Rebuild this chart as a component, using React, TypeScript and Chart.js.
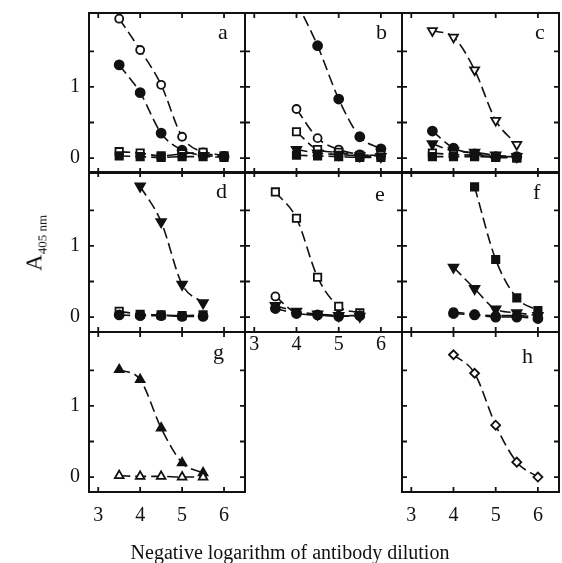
import React, { useEffect, useRef } from 'react';
import { Chart, registerables } from 'chart.js';

Chart.register(...registerables);

const FONT = '"Liberation Serif", "Times New Roman", serif';

// ---- axis ticks ----
const X_TICKS = [3, 4, 5, 6];
const Y_TICKS = [0, 0.5, 1, 1.5];
const X_MIN = 2.78;
const X_MAX = 6.5;
const Y_MIN = -0.21;
const Y_MAX = 2.04;

// ---- panel a ----
const xA = [3.5, 4, 4.5, 5, 5.5, 6];
const aOpenCircle = [1.96, 1.52, 1.03, 0.3, 0.08, 0.03];
const aFilledCircle = [1.31, 0.92, 0.35, 0.11, 0.04, 0.02];
const aOpenSquare = [0.09, 0.07, 0.03, 0.06, 0.08, 0.03];
const aFilledSquare = [0.03, 0.02, 0.01, 0.02, 0.02, 0.01];

// ---- panel b ----
const xB = [4, 4.5, 5, 5.5, 6];
const bFilledCircle = [2.2, 1.58, 0.83, 0.3, 0.13];
const bOpenCircle = [0.69, 0.28, 0.12, 0.05, 0.03];
const bOpenSquare = [0.37, 0.12, 0.08, 0.04, 0.04];
const bFilledTriDown = [0.12, 0.07, 0.05, 0.03, 0.02];
const bFilledSquare = [0.04, 0.03, 0.02, 0.01, 0.01];

// ---- panel c ----
const xC = [3.5, 4, 4.5, 5, 5.5];
const cOpenTriDown = [1.79, 1.7, 1.24, 0.53, 0.19];
const cFilledCircle = [0.38, 0.14, 0.06, 0.02, 0.02];
const cFilledTriDown = [0.2, 0.1, 0.08, 0.04, 0.02];
const cOpenSquare = [0.07, 0.05, 0.04, 0.02, 0.01];
const cFilledSquare = [0.02, 0.02, 0.02, 0.01, 0.0];

// ---- panel d ----
const xD = [4, 4.5, 5, 5.5];
const dFilledTriDown = [1.84, 1.34, 0.46, 0.2];
const xDBase = [3.5, 4, 4.5, 5, 5.5];
const dOpenSquare = [0.08, 0.04, 0.03, 0.02, 0.03];
const dFilledCircle = [0.03, 0.02, 0.02, 0.01, 0.01];

// ---- panel e ----
const xE = [3.5, 4, 4.5, 5, 5.5];
const eOpenSquare = [1.76, 1.39, 0.56, 0.15, 0.06];
const eOpenCircle = [0.29, 0.06, 0.03, 0.02, 0.02];
const eFilledTriDown = [0.16, 0.08, 0.04, 0.02, 0.01];
const eFilledCircle = [0.12, 0.05, 0.03, 0.01, 0.02];

// ---- panel f ----
const xFSquare = [4.5, 5, 5.5, 6];
const fFilledSquare = [1.83, 0.81, 0.27, 0.09];
const xF = [4, 4.5, 5, 5.5, 6];
const fFilledTriDown = [0.7, 0.4, 0.11, 0.06, 0.02];
const fOpenCircle = [0.07, 0.04, 0.02, 0.02, 0.0];
const fFilledCircle = [0.05, 0.03, 0.0, 0.0, -0.02];

// ---- panel g ----
const xG = [3.5, 4, 4.5, 5, 5.5];
const gFilledTriUp = [1.51, 1.37, 0.69, 0.2, 0.06];
const gOpenTriUp = [0.02, 0.01, 0.01, 0.0, 0.0];

// ---- panel h ----
const xH = [4, 4.5, 5, 5.5, 6];
const hOpenDiamond = [1.72, 1.46, 0.73, 0.21, 0.0];

type Marker = 'oc' | 'fc' | 'os' | 'fs' | 'otd' | 'ftd' | 'otu' | 'ftu' | 'od';
interface Series { x: number[]; y: number[]; m: Marker }
interface Panel {
  letter: string; col: number; row: number;
  lx: number; ly: number;
  showY: boolean; showX: boolean; xPad: number;
  series: Series[];
}

const COL_L = [89, 245, 402];
const COL_W = [156, 157, 157];
const ROW_T = [13, 172, 332];
const ROW_H = 160;
const AX_W = 60;
const AX_H = 50;
const PAD_T = 12;
const PAD_R = 12;
const TICK = 5;

const PANELS: Panel[] = [
  { letter: 'a', col: 0, row: 0, lx: 218, ly: 39, showY: true, showX: false, xPad: 2,
    series: [
      { x: xA, y: aFilledSquare, m: 'fs' }, { x: xA, y: aOpenSquare, m: 'os' },
      { x: xA, y: aFilledCircle, m: 'fc' }, { x: xA, y: aOpenCircle, m: 'oc' }] },
  { letter: 'b', col: 1, row: 0, lx: 376, ly: 39, showY: false, showX: false, xPad: 2,
    series: [
      { x: xB, y: bFilledSquare, m: 'fs' }, { x: xB, y: bFilledTriDown, m: 'ftd' },
      { x: xB, y: bOpenSquare, m: 'os' }, { x: xB, y: bOpenCircle, m: 'oc' },
      { x: xB, y: bFilledCircle, m: 'fc' }] },
  { letter: 'c', col: 2, row: 0, lx: 535, ly: 39, showY: false, showX: false, xPad: 2,
    series: [
      { x: xC, y: cFilledSquare, m: 'fs' }, { x: xC, y: cOpenSquare, m: 'os' },
      { x: xC, y: cFilledTriDown, m: 'ftd' }, { x: xC, y: cFilledCircle, m: 'fc' },
      { x: xC, y: cOpenTriDown, m: 'otd' }] },
  { letter: 'd', col: 0, row: 1, lx: 216, ly: 198, showY: true, showX: false, xPad: 2,
    series: [
      { x: xDBase, y: dFilledCircle, m: 'fc' }, { x: xDBase, y: dOpenSquare, m: 'os' },
      { x: xD, y: dFilledTriDown, m: 'ftd' }] },
  { letter: 'e', col: 1, row: 1, lx: 375, ly: 201, showY: false, showX: true, xPad: 1,
    series: [
      { x: xE, y: eFilledCircle, m: 'fc' }, { x: xE, y: eFilledTriDown, m: 'ftd' },
      { x: xE, y: eOpenCircle, m: 'oc' }, { x: xE, y: eOpenSquare, m: 'os' }] },
  { letter: 'f', col: 2, row: 1, lx: 533, ly: 199, showY: false, showX: false, xPad: 2,
    series: [
      { x: xF, y: fFilledCircle, m: 'fc' }, { x: xF, y: fOpenCircle, m: 'oc' },
      { x: xF, y: fFilledTriDown, m: 'ftd' }, { x: xFSquare, y: fFilledSquare, m: 'fs' }] },
  { letter: 'g', col: 0, row: 2, lx: 213, ly: 359, showY: true, showX: true, xPad: 12,
    series: [
      { x: xG, y: gOpenTriUp, m: 'otu' }, { x: xG, y: gFilledTriUp, m: 'ftu' }] },
  { letter: 'h', col: 2, row: 2, lx: 522, ly: 363, showY: false, showX: true, xPad: 12,
    series: [{ x: xH, y: hOpenDiamond, m: 'od' }] },
];

function markerStyle(m: Marker) {
  const ink = '#111';
  switch (m) {
    case 'oc': return { pointStyle: 'circle', rot: 0, r: 4, bg: '#fff' };
    case 'fc': return { pointStyle: 'circle', rot: 0, r: 4.5, bg: ink };
    case 'os': return { pointStyle: 'rect', rot: 0, r: 5.2, bg: '#fff' };
    case 'fs': return { pointStyle: 'rect', rot: 0, r: 5.2, bg: ink };
    case 'otd': return { pointStyle: 'triangle', rot: 180, r: 5.2, bg: '#fff' };
    case 'ftd': return { pointStyle: 'triangle', rot: 180, r: 5.5, bg: ink };
    case 'otu': return { pointStyle: 'triangle', rot: 0, r: 5, bg: '#fff' };
    case 'ftu': return { pointStyle: 'triangle', rot: 0, r: 5, bg: ink };
    case 'od': return { pointStyle: 'rectRot', rot: 0, r: 4.5, bg: '#fff' };
  }
}

const framePlugin = {
  id: 'frame',
  afterDraw(chart: any) {
    const { ctx, chartArea } = chart;
    const { left, top, right, bottom } = chartArea;
    const xs = chart.scales.x;
    const ys = chart.scales.y;
    ctx.save();
    ctx.strokeStyle = '#111';
    ctx.lineWidth = 2;
    ctx.strokeRect(left, top, right - left, bottom - top);
    ctx.lineWidth = 1.8;
    ctx.beginPath();
    for (const v of Y_TICKS) {
      const py = ys.getPixelForValue(v);
      ctx.moveTo(left, py); ctx.lineTo(left + TICK, py);
      ctx.moveTo(right, py); ctx.lineTo(right - TICK, py);
    }
    for (const v of X_TICKS) {
      const px = xs.getPixelForValue(v);
      ctx.moveTo(px, bottom); ctx.lineTo(px, bottom - TICK);
      ctx.moveTo(px, top); ctx.lineTo(px, top + TICK);
    }
    ctx.stroke();
    ctx.restore();
  },
};

function PanelChart({ p }: { p: Panel }) {
  const ref = useRef<HTMLCanvasElement | null>(null);
  const W = COL_W[p.col];
  const L = COL_L[p.col];
  const T = ROW_T[p.row];
  const cw = W + AX_W + PAD_R;
  const ch = ROW_H + PAD_T + AX_H;
  useEffect(() => {
    if (!ref.current) return;
    const chart = new Chart(ref.current, {
      type: 'line',
      data: {
        datasets: p.series.map((s) => {
          const ms = markerStyle(s.m)!;
          return {
            data: s.x.map((x, i) => ({ x, y: s.y[i] })),
            borderColor: '#111',
            borderWidth: 1.6,
            borderDash: [11, 5],
            cubicInterpolationMode: 'monotone',
            fill: false,
            pointStyle: ms.pointStyle,
            pointRotation: ms.rot,
            pointRadius: ms.r,
            pointBackgroundColor: ms.bg,
            pointBorderColor: '#111',
            pointBorderWidth: 1.8,
            clip: 0,
          } as any;
        }),
      },
      options: {
        animation: false,
        responsive: false,
        events: [],
        layout: { padding: { top: PAD_T, right: PAD_R, left: 0, bottom: 0 } },
        plugins: { legend: { display: false }, tooltip: { enabled: false } },
        scales: {
          x: {
            type: 'linear', min: X_MIN, max: X_MAX,
            grid: { display: false, drawTicks: false },
            border: { display: false },
            afterBuildTicks: (s: any) => { s.ticks = X_TICKS.map((v) => ({ value: v })); },
            afterFit: (s: any) => {
              s.height = AX_H; s.paddingLeft = 0; s.paddingRight = 0; s.paddingTop = 0; s.paddingBottom = 0;
            },
            ticks: {
              display: p.showX, padding: p.xPad, color: '#111', maxRotation: 0, autoSkip: false,
              font: { family: FONT, size: 20 },
              callback: (v: any) => String(v),
            },
          },
          y: {
            type: 'linear', min: Y_MIN, max: Y_MAX,
            grid: { display: false, drawTicks: false },
            border: { display: false },
            afterBuildTicks: (s: any) => { s.ticks = Y_TICKS.map((v) => ({ value: v })); },
            afterFit: (s: any) => {
              s.width = AX_W; s.paddingTop = 0; s.paddingBottom = 0; s.paddingLeft = 0; s.paddingRight = 0;
            },
            ticks: {
              display: p.showY, padding: 9, color: '#111', autoSkip: false,
              font: { family: FONT, size: 20 },
              callback: (v: any) => (Number.isInteger(v) ? String(v) : ''),
            },
          },
        },
      } as any,
      plugins: [framePlugin],
    });
    return () => chart.destroy();
  }, [p]);
  return (
    <canvas
      ref={ref}
      width={cw}
      height={ch}
      style={{ position: 'absolute', left: L - AX_W, top: T - PAD_T, width: cw, height: ch }}
    />
  );
}

export default function App() {
  return (
    <div>
      {PANELS.map((p) => <PanelChart key={p.letter} p={p} />)}
      {PANELS.map((p) => (
        <span key={'l' + p.letter} style={{
          position: 'absolute', left: p.lx, top: p.ly - 18, font: `22px ${FONT}`,
          lineHeight: '22px', color: '#111',
        }}>{p.letter}</span>
      ))}
      <div style={{
        position: 'absolute', left: 0, width: 580, top: 542, textAlign: 'center',
        font: `20px ${FONT}`, lineHeight: '20px', color: '#111', whiteSpace: 'nowrap',
      }}>Negative logarithm of antibody dilution</div>
      <div style={{
        position: 'absolute', left: 38, top: 243, transform: 'translate(-50%, -50%) rotate(-90deg)',
        font: `23px ${FONT}`, lineHeight: '23px', color: '#111', whiteSpace: 'nowrap',
      }}>A<sub style={{ fontSize: 13, verticalAlign: '-5px' }}>405 nm</sub></div>
    </div>
  );
}
